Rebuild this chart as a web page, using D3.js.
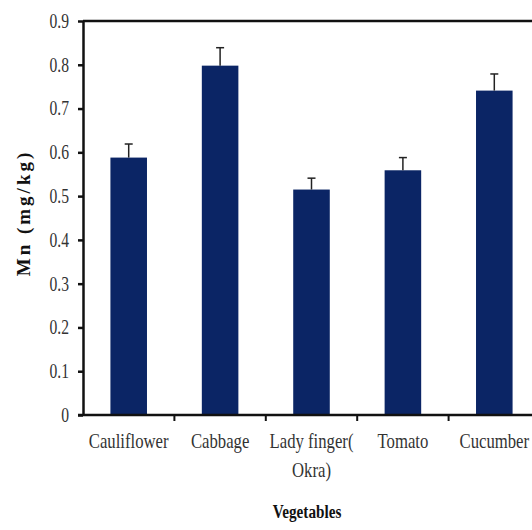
<!DOCTYPE html>
<html>
<head>
<meta charset="utf-8">
<script src="https://cdn.jsdelivr.net/npm/d3@7"></script>
<style>
  body { margin: 0; background: #fff; }
  text { font-family: "Liberation Serif", "Times New Roman", serif; fill: #222; }
</style>
</head>
<body>
<svg id="chart" width="532" height="530"></svg>
<script>
// data
var vegetables = ["Cauliflower", "Cabbage", "Lady finger( Okra)", "Tomato", "Cucumber"];
var mnValues = [0.588, 0.798, 0.515, 0.559, 0.741];
var mnErrors = [0.031, 0.041, 0.026, 0.029, 0.038];
var yTicks = [0, 0.1, 0.2, 0.3, 0.4, 0.5, 0.6, 0.7, 0.8, 0.9];

var BAR_COLOR = "#0b2565";
var svg = d3.select("#chart");

var plotLeft = 83, plotRight = 540, plotTop = 21, plotBottom = 415;

var x = d3.scaleBand()
    .domain(vegetables)
    .range([plotLeft, plotRight])
    .paddingInner(0.6)
    .paddingOuter(0.3);

var y = d3.scaleLinear()
    .domain([0, 0.9])
    .range([plotBottom, plotTop]);

// top frame line
svg.append("line")
    .attr("x1", plotLeft).attr("x2", plotRight)
    .attr("y1", y(0.9)).attr("y2", y(0.9))
    .style("stroke", "#111").style("stroke-width", 2.5);

// bars
svg.append("g").selectAll("rect")
    .data(vegetables)
    .enter().append("rect")
    .attr("x", function (d) { return x(d); })
    .attr("width", x.bandwidth())
    .attr("y", function (d, i) { return y(mnValues[i]); })
    .attr("height", function (d, i) { return y(0) - y(mnValues[i]); })
    .style("fill", BAR_COLOR);

// error bars (upper only)
var err = svg.append("g").selectAll("g")
    .data(vegetables)
    .enter().append("g")
    .style("stroke", "#222")
    .style("stroke-width", 1.5);
err.append("line")
    .attr("x1", function (d) { return x(d) + x.bandwidth() / 2; })
    .attr("x2", function (d) { return x(d) + x.bandwidth() / 2; })
    .attr("y1", function (d, i) { return y(mnValues[i]); })
    .attr("y2", function (d, i) { return y(mnValues[i] + mnErrors[i]); });
err.append("line")
    .attr("x1", function (d) { return x(d) + x.bandwidth() / 2 - 4; })
    .attr("x2", function (d) { return x(d) + x.bandwidth() / 2 + 4; })
    .attr("y1", function (d, i) { return y(mnValues[i] + mnErrors[i]); })
    .attr("y2", function (d, i) { return y(mnValues[i] + mnErrors[i]); });

// y axis
var yAxis = svg.append("g")
    .attr("transform", "translate(" + plotLeft + ",0)")
    .call(d3.axisLeft(y).tickValues(yTicks).tickSize(5).tickSizeOuter(0)
        .tickFormat(function (d) { return d === 0 ? "0" : d3.format(".1f")(d); }));
yAxis.select(".domain").style("stroke", "#111").style("stroke-width", 2.5);
yAxis.selectAll(".tick line").style("stroke", "#111").style("stroke-width", 2.5);
yAxis.selectAll(".tick text")
    .attr("x", 0)
    .attr("transform", "translate(-14,0) scale(0.78,1)")
    .style("font-size", "20px")
    .style("font-family", "Liberation Serif")
    .style("fill", "#333");

// x axis
svg.append("line")
    .attr("x1", plotLeft - 5).attr("x2", plotRight)
    .attr("y1", plotBottom).attr("y2", plotBottom)
    .style("stroke", "#111").style("stroke-width", 2.5);

var step = x.step();
svg.append("g").selectAll("line")
    .data(vegetables.slice(1))
    .enter().append("line")
    .attr("x1", function (d) { return x(d) - step * x.paddingInner() / 2; })
    .attr("x2", function (d) { return x(d) - step * x.paddingInner() / 2; })
    .attr("y1", plotBottom).attr("y2", plotBottom + 6)
    .style("stroke", "#111").style("stroke-width", 2);

var labels = svg.append("g").selectAll("text")
    .data(vegetables)
    .enter().append("text")
    .attr("transform", function (d) {
        return "translate(" + (x(d) + x.bandwidth() / 2) + "," + 448 + ") scale(0.76,1)";
    })
    .attr("text-anchor", "middle")
    .style("font-size", "22px")
    .style("fill", "#333");
labels.each(function (d) {
    var parts = d.indexOf("(") >= 0 ? [d.slice(0, d.indexOf("(") + 1), d.slice(d.indexOf("(") + 2)] : [d];
    var t = d3.select(this);
    parts.forEach(function (p, k) {
        t.append("tspan").attr("x", 0).attr("dy", k === 0 ? 0 : 29).text(p);
    });
});

// axis titles
svg.append("text")
    .attr("transform", "translate(307,518) scale(0.8,1)")
    .attr("text-anchor", "middle")
    .style("font-size", "19px")
    .style("font-weight", "bold")
    .style("fill", "#111")
    .text("Vegetables");

svg.append("text")
    .attr("transform", "translate(30,213) rotate(-90)")
    .attr("text-anchor", "middle")
    .style("font-size", "19px")
    .style("font-weight", "bold")
    .style("letter-spacing", "3px")
    .style("fill", "#111")
    .text("Mn (mg/kg)");
</script>
</body>
</html>
